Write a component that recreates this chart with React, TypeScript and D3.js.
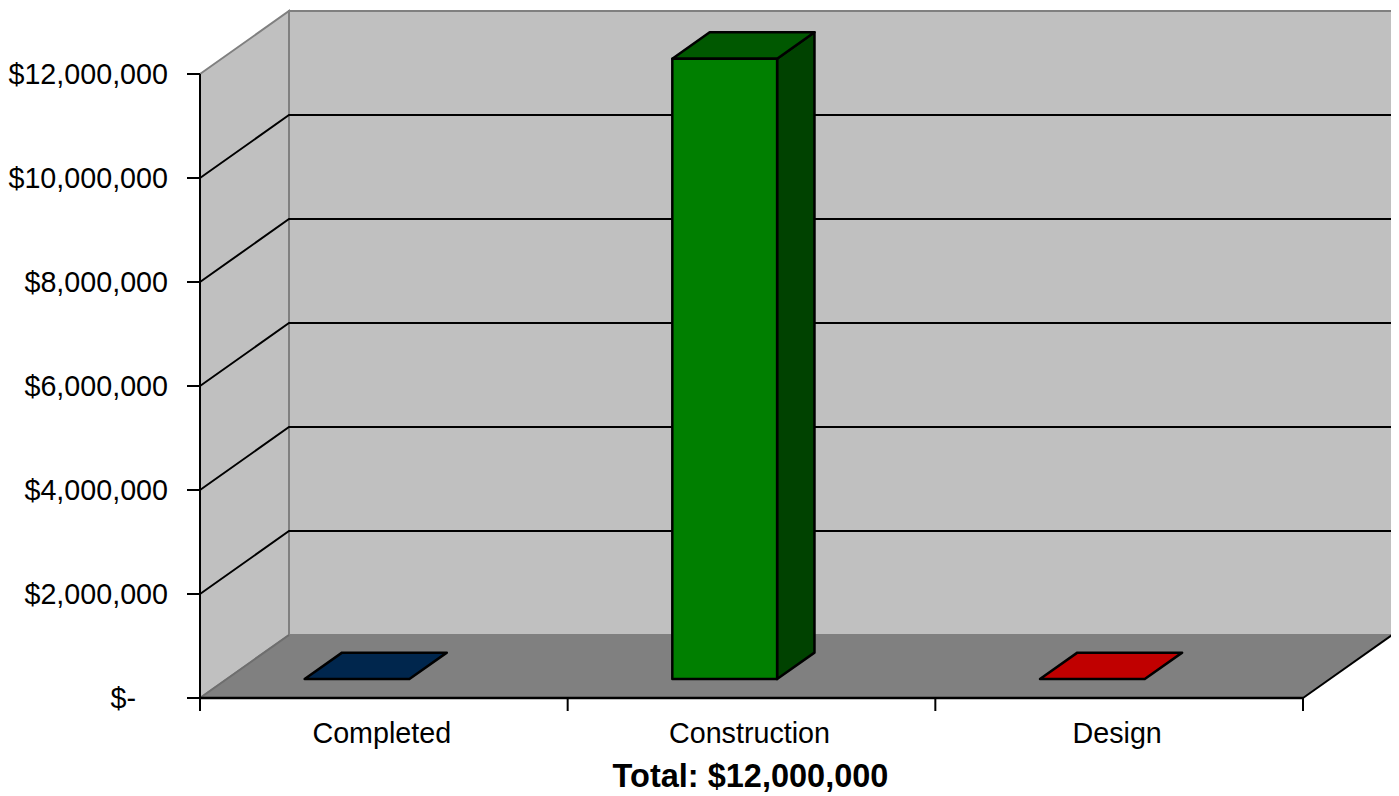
import React from "react";
import * as d3 from "d3";

const categories = ["Completed", "Construction", "Design"];
const values = [0, 11930000, 0];
const frontColors = ["#003366", "#007f00", "#c00000"];
const topColors = ["#00264d", "#005800", "#c00000"];
const sideColors = ["#001a33", "#004200", "#800000"];
const yTicks = [0, 2000000, 4000000, 6000000, 8000000, 10000000, 12000000];
const totalLabel = 12000000;

const width = 1399;
const height = 796;
// 3d offsets of the floor depth
const depthX = 89;
const depthY = -63;
const barDepth0 = 0.3;
const barDepth1 = 0.72;
const labelSize = 28.7;

const fmt = (v: number) => (v === 0 ? "$-" : "$" + d3.format(",")(v));

const App = () => {
  const x = d3.scaleBand().domain(categories).range([200, 1303]);
  const y = d3.scaleLinear().domain([0, 12000000]).range([698, 74]);
  const bw = x.bandwidth();
  const barOffset = bw * 0.212;
  const barW = bw * 0.285;

  const pt = (px: number, py: number, f: number) =>
    `${px + f * depthX},${py + f * depthY}`;

  const x0 = x.range()[0];
  const x1 = x.range()[1];
  const yTop = y(12000000);
  const yZero = y(0);

  return (
    <svg width={width} height={height} style={{ display: "block", marginLeft: -8, marginTop: -8 }}
      fontFamily="'Liberation Sans', Arial, sans-serif">
      {/* left wall */}
      <polygon
        points={[pt(x0, yTop, 0), pt(x0, yTop, 1), pt(x0, yZero, 1), pt(x0, yZero, 0)].join(" ")}
        fill="#c0c0c0" stroke="#808080" strokeWidth={2}
      />
      {/* back wall */}
      <polygon
        points={[pt(x0, yTop, 1), pt(x1, yTop, 1), pt(x1, yZero, 1), pt(x0, yZero, 1)].join(" ")}
        fill="#c0c0c0" stroke="#808080" strokeWidth={2}
      />
      {/* gridlines */}
      {yTicks.slice(1, -1).map((t) => (
        <polyline
          key={t}
          points={[pt(x0, y(t), 0), pt(x0, y(t), 1), pt(x1, y(t), 1)].join(" ")}
          fill="none" stroke="#000" strokeWidth={2}
        />
      ))}
      {/* floor */}
      <polygon
        points={[pt(x0, yZero, 0), pt(x0, yZero, 1), pt(x1, yZero, 1), pt(x1, yZero, 0)].join(" ")}
        fill="#808080"
      />
      <line x1={x0} y1={yZero} x2={x0 + depthX} y2={yZero + depthY} stroke="#6e6e6e" strokeWidth={2} />
      <line x1={x1} y1={yZero} x2={x1 + depthX} y2={yZero + depthY} stroke="#000" strokeWidth={2} />
      {/* bars */}
      {categories.map((c, i) => {
        const bx0 = (x(c) as number) + barOffset;
        const bx1 = bx0 + barW;
        const by = y(values[i]);
        const f0 = barDepth0;
        const f1 = barDepth1;
        const h = yZero - by;
        return (
          <g key={c} stroke="#000" strokeWidth={2.5} strokeLinejoin="round">
            {h > 0 && (
              <polygon
                points={[pt(bx1, by, f0), pt(bx1, by, f1), pt(bx1, yZero, f1), pt(bx1, yZero, f0)].join(" ")}
                fill={sideColors[i]}
              />
            )}
            <polygon
              points={[pt(bx0, by, f0), pt(bx0, by, f1), pt(bx1, by, f1), pt(bx1, by, f0)].join(" ")}
              fill={topColors[i]}
            />
            {h > 0 && (
              <polygon
                points={[pt(bx0, by, f0), pt(bx1, by, f0), pt(bx1, yZero, f0), pt(bx0, yZero, f0)].join(" ")}
                fill={frontColors[i]}
              />
            )}
          </g>
        );
      })}
      {/* axes */}
      <line x1={x0} y1={yTop} x2={x0} y2={yZero + 13} stroke="#000" strokeWidth={2} />
      <line x1={x0} y1={yZero} x2={x1} y2={yZero} stroke="#000" strokeWidth={2.5} />
      {yTicks.map((t) => (
        <g key={t}>
          <line x1={x0 - 13} y1={y(t)} x2={x0} y2={y(t)} stroke="#000" strokeWidth={2} />
          {/* accounting format pads the dash with two digit widths */}
          <text x={x0 - 32 - (t === 0 ? labelSize * 0.556 * 2 : 0)} y={y(t)} dy="0.36em"
            textAnchor="end" fontSize={labelSize} fill="#000">
            {fmt(t)}
          </text>
        </g>
      ))}
      {[x0, ...categories.map((c) => (x(c) as number) + bw)].map((px, i) => (
        <line key={i} x1={px} y1={yZero} x2={px} y2={yZero + 13} stroke="#000" strokeWidth={2} />
      ))}
      {categories.map((c) => (
        <text key={c} x={(x(c) as number) + bw / 2 - 2} y={743} textAnchor="middle" fontSize={labelSize} fill="#000">
          {c}
        </text>
      ))}
      <text x={(x0 + x1) / 2 - 1} y={787} textAnchor="middle" fontSize={32.5} fontWeight="bold" fill="#000">
        {"Total: " + fmt(totalLabel)}
      </text>
    </svg>
  );
};

export default App;
